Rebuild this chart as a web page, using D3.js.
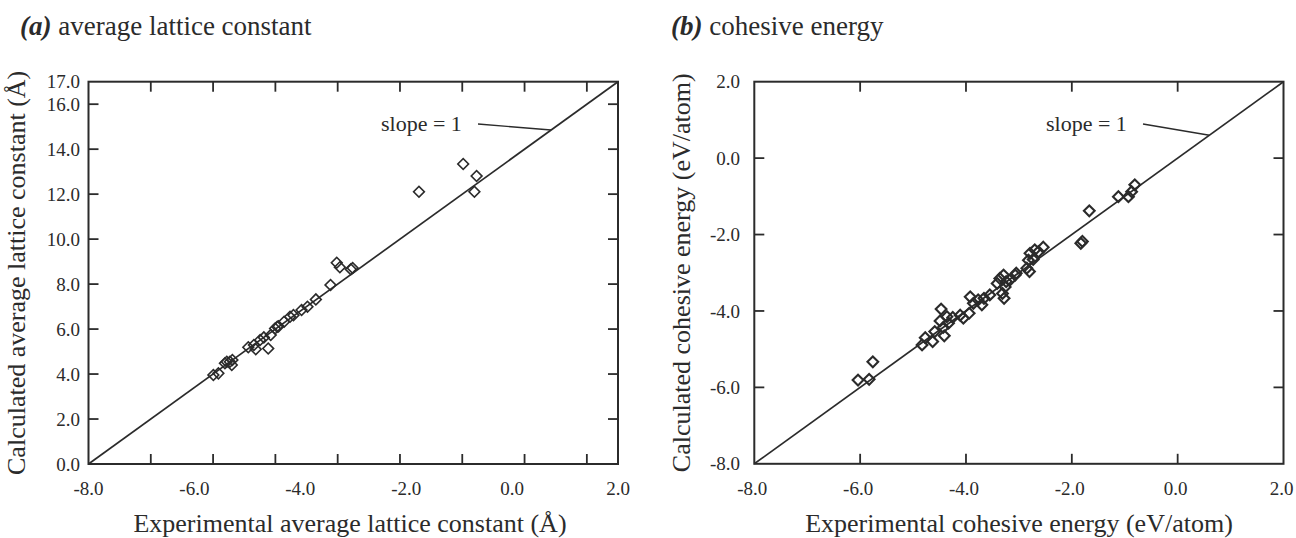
<!DOCTYPE html>
<html><head><meta charset="utf-8">
<script src="https://cdn.jsdelivr.net/npm/d3@7"></script>
<style>body{margin:0;background:#fff}svg{display:block}text{font-family:"Liberation Serif","Times New Roman",serif;fill:#2b2b2b}</style>
</head><body><svg id="c" width="1296" height="538"></svg>
<script>
// ---- data ----
const leftExpX = [4.01,4.17,4.38,4.44,4.54,4.60,4.62,5.13,5.31,5.37,5.51,5.63,5.77,5.85,5.99,6.06,6.10,6.28,6.47,6.58,6.84,7.03,7.30,7.77,7.97,8.07,8.42,8.48,10.61,12.03,12.46,12.39];
const leftCalcY = [3.96,4.03,4.48,4.55,4.55,4.40,4.62,5.19,5.29,5.10,5.51,5.63,5.14,5.74,6.03,6.10,6.12,6.33,6.55,6.62,6.85,6.99,7.32,7.96,8.95,8.75,8.66,8.72,12.11,13.34,12.81,12.11];
const leftYTicks = [0,2,4,6,8,10,12,14,16,17];
const leftTickMarks = [2,4,6,8,10,12,14,16];
const leftXLabels = [-8,-6,-4,-2,0,2];

const rightExpX = [-6.04,-5.83,-5.76,-4.83,-4.77,-4.63,-4.59,-4.47,-4.49,-4.43,-4.41,-4.36,-4.33,-4.25,-4.11,-4.05,-3.94,-3.92,-3.86,-3.77,-3.70,-3.66,-3.55,-3.41,-3.36,-3.31,-3.28,-3.24,-3.26,-3.17,-3.29,-3.05,-3.07,-2.85,-2.82,-2.79,-2.73,-2.80,-2.70,-2.63,-2.54,-1.83,-1.80,-1.67,-1.12,-0.93,-0.87,-0.81];
const rightCalcY = [-5.81,-5.79,-5.33,-4.89,-4.70,-4.80,-4.54,-3.95,-4.26,-4.43,-4.65,-4.15,-4.32,-4.17,-4.11,-4.19,-4.06,-3.63,-3.80,-3.71,-3.84,-3.67,-3.58,-3.28,-3.15,-3.54,-3.67,-3.23,-3.37,-3.19,-3.06,-3.01,-3.06,-2.88,-2.67,-2.49,-2.65,-2.97,-2.40,-2.45,-2.33,-2.23,-2.18,-1.38,-1.01,-1.01,-0.88,-0.70];
const rightTicks = [-8,-6,-4,-2,0,2];
const rightTickMarks = [-6,-4,-2,0];

const svg = d3.select("#c");
const ink = "#2b2b2b";
const fmt = d => d3.format(".1f")(d).replace("−", "-");

function frame(g, x0, x1, y0, y1) {
  g.append("rect").attr("x", x0).attr("y", y0).attr("width", x1 - x0).attr("height", y1 - y0)
    .attr("fill", "none").attr("stroke", ink).attr("stroke-width", 2);
}
function diamonds(g, xs, ys, x, y, sw, size) {
  const sym = d3.symbol(d3.symbolSquare, size);
  g.selectAll(null).data(xs.map((v, i) => [v, ys[i]])).enter().append("path")
    .attr("d", sym).attr("transform", d => `translate(${x(d[0])},${y(d[1])}) rotate(45)`)
    .attr("fill", "none").attr("stroke", ink).attr("stroke-width", sw);
}
function tickMarks(g, xs, ys, x, y, L) {
  const [xa, xb] = x.range(), [yb, ya] = y.range();
  xs.forEach(v => {
    g.append("line").attr("x1", x(v)).attr("x2", x(v)).attr("y1", yb).attr("y2", yb - L).attr("stroke", ink).attr("stroke-width", 1.8);
    g.append("line").attr("x1", x(v)).attr("x2", x(v)).attr("y1", ya).attr("y2", ya + L).attr("stroke", ink).attr("stroke-width", 1.8);
  });
  ys.forEach(v => {
    g.append("line").attr("y1", y(v)).attr("y2", y(v)).attr("x1", xa).attr("x2", xa + L).attr("stroke", ink).attr("stroke-width", 1.8);
    g.append("line").attr("y1", y(v)).attr("y2", y(v)).attr("x1", xb).attr("x2", xb - L).attr("stroke", ink).attr("stroke-width", 1.8);
  });
}
function title(x, txt1, txt2) {
  const t = svg.append("text").attr("x", x).attr("y", 35).style("font-size", "27px");
  t.append("tspan").text(txt1).style("font-weight", "bold").style("font-style", "italic");
  t.append("tspan").text(" " + txt2);
}

// ---- panel (a) ----
{
  const x = d3.scaleLinear().domain([0, 17]).range([88.5, 618]);
  const y = d3.scaleLinear().domain([0, 17]).range([464, 81.7]);
  const xl = d3.scaleLinear().domain([-8, 2]).range([88.5, 618]);
  const g = svg.append("g");
  frame(g, 88.5, 618, 81.7, 464);
  tickMarks(g, leftTickMarks, leftTickMarks, x, y, 10);
  g.append("line").attr("x1", x(0)).attr("y1", y(0)).attr("x2", x(17)).attr("y2", y(17)).attr("stroke", ink).attr("stroke-width", 1.7);
  diamonds(g, leftExpX, leftCalcY, x, y, 1.6, 58);
  g.selectAll(null).data(leftYTicks).enter().append("text")
    .attr("x", 80).attr("y", d => y(d)).attr("dy", "0.35em").attr("text-anchor", "end")
    .style("font-size", "19px").text(fmt);
  g.selectAll(null).data(leftXLabels).enter().append("text")
    .attr("x", d => xl(d)).attr("y", 495).attr("text-anchor", "middle")
    .style("font-size", "19px").text(fmt);
  g.append("text").attr("x", 350).attr("y", 532).attr("text-anchor", "middle").style("font-size", "26px")
    .text("Experimental average lattice constant (Å)");
  g.append("text").attr("transform", `translate(25,${(81.7 + 464) / 2}) rotate(-90)`).attr("text-anchor", "middle").style("font-size", "26px")
    .text("Calculated average lattice constant (Å)");
  g.append("text").attr("x", 381).attr("y", 130.5).style("font-size", "22px").text("slope = 1");
  g.append("line").attr("x1", 478).attr("y1", 124).attr("x2", x(14.85)).attr("y2", y(14.85)).attr("stroke", ink).attr("stroke-width", 1.4);
  title(20, "(a)", "average lattice constant");
}

// ---- panel (b) ----
{
  const x = d3.scaleLinear().domain([-8, 2]).range([754.3, 1283.5]);
  const y = d3.scaleLinear().domain([-8, 2]).range([463.8, 81.7]);
  const g = svg.append("g");
  frame(g, 754.3, 1283.5, 81.7, 463.8);
  tickMarks(g, rightTickMarks, rightTickMarks, x, y, 10);
  g.append("line").attr("x1", x(-8)).attr("y1", y(-8)).attr("x2", x(2)).attr("y2", y(2)).attr("stroke", ink).attr("stroke-width", 1.7);
  diamonds(g, rightExpX, rightCalcY, x, y, 2.1, 58);
  g.selectAll(null).data(rightTicks).enter().append("text")
    .attr("x", 740).attr("y", d => y(d)).attr("dy", "0.35em").attr("text-anchor", "end")
    .style("font-size", "19px").text(fmt);
  g.selectAll(null).data(rightTicks).enter().append("text")
    .attr("x", d => x(d) - 2).attr("y", 495).attr("text-anchor", "middle")
    .style("font-size", "19px").text(fmt);
  g.append("text").attr("x", 1019).attr("y", 532).attr("text-anchor", "middle").style("font-size", "26px")
    .text("Experimental cohesive energy (eV/atom)");
  g.append("text").attr("transform", `translate(690,${(81.7 + 463.8) / 2}) rotate(-90)`).attr("text-anchor", "middle").style("font-size", "26px")
    .text("Calculated cohesive energy (eV/atom)");
  g.append("text").attr("x", 1046).attr("y", 130.5).style("font-size", "22px").text("slope = 1");
  g.append("line").attr("x1", 1143).attr("y1", 124).attr("x2", x(0.6)).attr("y2", y(0.6)).attr("stroke", ink).attr("stroke-width", 1.4);
  title(671, "(b)", "cohesive energy");
}
</script></body></html>
